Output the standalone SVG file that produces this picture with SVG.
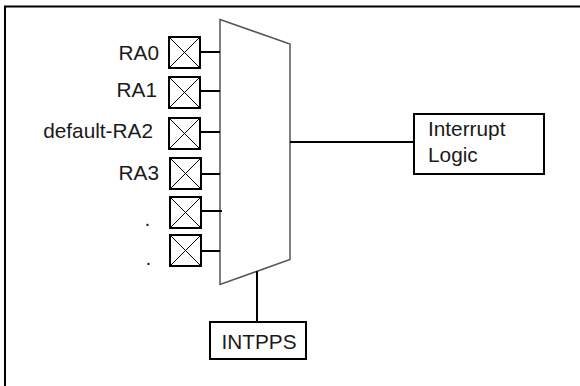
<svg xmlns="http://www.w3.org/2000/svg" width="580" height="386" viewBox="0 0 580 386">
<style>
text{font-family:"Liberation Sans",Arial,sans-serif;font-size:20.800px;fill:#1a1a1a}
.b{fill:#fff;stroke:#000;stroke-width:2}
.x{fill:none;stroke:#000;stroke-width:1}
.w{fill:none;stroke:#000;stroke-width:2}
</style>
<defs>
<g id="pad"><rect class="b" x="0" y="0" width="31" height="31"/><path class="x" d="M0 0L31 31M31 0L0 31"/></g>
</defs>
<rect id="frame" x="5" y="6.500" width="580" height="385" fill="#fff" stroke="#000" stroke-width="2"/>
<g id="mux"><path d="M220 19.500L290 44V259.500L220 284.500Z" fill="#fff" stroke="#555" stroke-width="1.500"/></g>
<g id="connectors">
<path class="w" d="M200 52H220M200 91H220M201 132H220M201 174H220M201 211H222M201 251H220M290 142H414M257 271V322"/>
</g>
<g id="ra0"><use href="#pad" x="169" y="37"/><text x="159" y="60" text-anchor="end">RA0</text></g>
<g id="ra1"><use href="#pad" x="169" y="77"/><text x="157" y="96.500" text-anchor="end">RA1</text></g>
<g id="ra2"><use href="#pad" x="169" y="118"/><text x="153" y="138" text-anchor="end">default-RA2</text></g>
<g id="ra3"><use href="#pad" x="170" y="158"/><text x="159" y="180" text-anchor="end">RA3</text></g>
<g id="pad5"><use href="#pad" x="170" y="197"/><text x="147.500" y="226" text-anchor="middle">.</text></g>
<g id="pad6"><use href="#pad" x="170" y="235"/><text x="148.500" y="265" text-anchor="middle">.</text></g>
<g id="interrupt"><rect class="b" x="414" y="114" width="130" height="60"/><text x="428" y="135.500">Interrupt</text><text x="428" y="161.500">Logic</text></g>
<g id="intpps"><rect class="b" x="210" y="322" width="96" height="37"/><text x="221.500" y="348.500">INTPPS</text></g>
</svg>
